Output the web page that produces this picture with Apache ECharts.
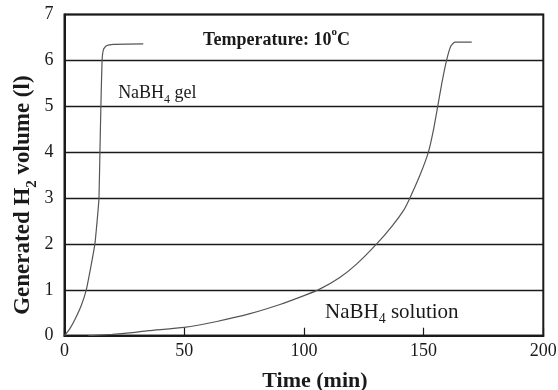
<!DOCTYPE html>
<html>
<head>
<meta charset="utf-8">
<script src="https://cdn.jsdelivr.net/npm/echarts@6/dist/echarts.min.js"></script>
<style>
  html, body { margin: 0; padding: 0; background: #fff; }
  #chart { width: 558px; height: 390px; }
</style>
</head>
<body>
<div id="chart"></div>
<script>
// Hydrogen evolution at 10 °C: cumulative H2 volume (l) against time (min)
const gelTime = [0, 2.3, 4.4, 7.0, 9.1, 11.0, 12.7, 13.8, 14.4, 14.8, 15.2, 15.7, 16.3, 17.5, 20.4, 32.9];
const gelVolume = [0, 0.16, 0.36, 0.66, 1.0, 1.5, 2.0, 2.6, 3.0, 4.0, 5.0, 6.0, 6.24, 6.32, 6.35, 6.36];

const solTime = [10, 20, 27, 35, 50, 63.6, 77.5, 90, 98.4, 106.4, 115, 122, 130.4, 137, 141.5, 144, 148.5, 152, 154.1, 155.9, 157.6, 159.6, 161.3, 163.1, 170.1];
const solVolume = [0, 0.03, 0.06, 0.11, 0.18, 0.31, 0.48, 0.68, 0.84, 1.01, 1.27, 1.56, 2.0, 2.4, 2.72, 2.97, 3.5, 4.0, 4.48, 5.0, 5.5, 6.0, 6.3, 6.4, 6.4];

const xTicks = [0, 50, 100, 150, 200];
const yTicks = [0, 1, 2, 3, 4, 5, 6, 7];

const pair = (xs, ys) => xs.map((x, i) => [x, ys[i]]);

const serif = '"Liberation Serif", "Times New Roman", serif';
const ink = '#1a1a1a';
const curve = '#555';

const chart = echarts.init(document.getElementById('chart'), null, { renderer: 'canvas' });

const option = {
  backgroundColor: '#fff',
  animation: false,
  grid: {
    left: 64.5, right: 14.7, top: 14.5, bottom: 54.3,
    outerBoundsMode: 'none', containLabel: false,
    show: true, borderColor: ink, borderWidth: 2, backgroundColor: 'transparent'
  },
  xAxis: {
    type: 'value', min: xTicks[0], max: xTicks[xTicks.length - 1], interval: 50,
    name: 'Time (min)', nameLocation: 'middle', nameGap: 35, nameMoveOverlap: false,
    nameTextStyle: { fontFamily: serif, fontWeight: 'bold', fontSize: 22, color: ink, padding: [0, 0, 0, 22] },
    axisLine: { onZero: false, lineStyle: { color: ink, width: 2 } },
    axisTick: { inside: true, length: 8, lineStyle: { color: ink, width: 1.2 } },
    axisLabel: { fontFamily: serif, fontSize: 18, color: ink, margin: 7 },
    splitLine: { show: false }
  },
  yAxis: {
    type: 'value', min: yTicks[0], max: yTicks[yTicks.length - 1], interval: 1,
    name: '{b|Generated H}{s|2}{b| volume (l)}', nameLocation: 'middle', nameGap: 30, nameMoveOverlap: false,
    nameTextStyle: {
      fontFamily: serif, fontWeight: 'bold', fontSize: 23, color: ink, padding: [0, 40, 0, 0],
      rich: {
        b: { fontFamily: serif, fontWeight: 'bold', fontSize: 23, color: ink, lineHeight: 26, verticalAlign: 'bottom' },
        s: { fontFamily: serif, fontWeight: 'bold', fontSize: 15, color: ink, lineHeight: 18, verticalAlign: 'bottom', padding: [0, 0, -5, 0] }
      }
    },
    axisLine: { onZero: false, lineStyle: { color: ink, width: 2 } },
    axisTick: { show: false },
    axisLabel: { fontFamily: serif, fontSize: 18, color: ink, margin: 11 },
    splitLine: { show: true, lineStyle: { color: ink, width: 1.3 } }
  },
  series: [
    {
      name: 'NaBH4 gel', type: 'line', data: pair(gelTime, gelVolume),
      showSymbol: false, smooth: 0.15,
      lineStyle: { color: curve, width: 1.2 }, z: 3
    },
    {
      name: 'NaBH4 solution', type: 'line', data: pair(solTime, solVolume),
      showSymbol: false, smooth: 0.2,
      lineStyle: { color: curve, width: 1.2 }, z: 3
    }
  ]
};

chart.setOption(option);

// Annotations placed in data coordinates
function at(x, y) { return chart.convertToPixel({ gridIndex: 0 }, [x, y]); }

function richLabel(pt, parts, size, bold, align) {
  const w = bold ? 'bold' : 'normal';
  return {
    type: 'text', x: pt[0], y: pt[1], z: 10,
    style: {
      text: parts, align: align || 'left', verticalAlign: 'middle',
      fontFamily: serif, fontSize: size, fontWeight: w, fill: ink,
      rich: {
        n: { fontFamily: serif, fontSize: size, fontWeight: w, fill: ink, lineHeight: size + 4, verticalAlign: 'bottom' },
        s: { fontFamily: serif, fontSize: Math.round(size * 0.68), fontWeight: w, fill: ink, lineHeight: size, verticalAlign: 'bottom', padding: [0, 0, -4, 0] },
        u: { fontFamily: serif, fontSize: Math.round(size * 0.62), fontWeight: w, fill: ink, lineHeight: size + 4, verticalAlign: 'top' }
      }
    }
  };
}

chart.setOption({
  graphic: [
    richLabel(at(88.6, 6.49), '{n|Temperature: 10}{u|o}{n|C}', 18, true, 'center'),
    richLabel(at(22.4, 5.33), '{n|NaBH}{s|4}{n| gel}', 18, false),
    richLabel(at(108.8, 0.56), '{n|NaBH}{s|4}{n| solution}', 21, false)
  ]
});
</script>
</body>
</html>
